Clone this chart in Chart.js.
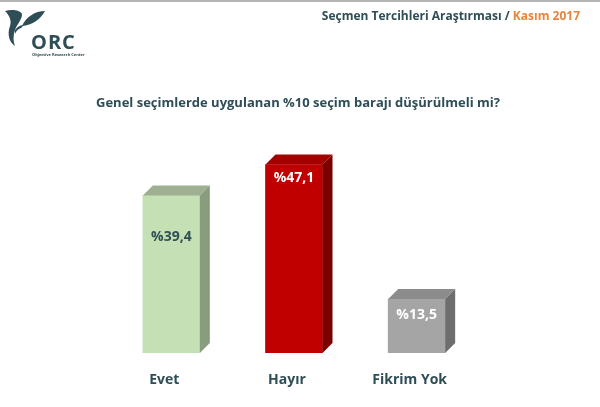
<!DOCTYPE html>
<html>
<head>
<meta charset="utf-8">
<script src="https://cdn.jsdelivr.net/npm/chart.js"></script>
<style>
  html, body { margin: 0; padding: 0; background: #fff; }
  #wrap { width: 600px; height: 407px; position: relative; }
</style>
</head>
<body>
<div id="wrap"><canvas id="barajChart"></canvas></div>
<script>
// DATA
const categories = ["Evet", "Hayır", "Fikrim Yok"];
const values = [39.4, 47.1, 13.5];
const valueLabels = ["%39,4", "%47,1", "%13,5"];

// styling
const frontColors = ["#c5e0b4", "#c00000", "#a5a5a5"];
const topColors = ["#9fb092", "#a30000", "#8c8c8c"];
const sideColors = ["#8a9c7e", "#7a0000", "#6e6e6e"];
const labelColors = ["#2f4f55", "#ffffff", "#ffffff"];
const labelOffsets = [42, 13, 16];
const depth = 10;
const teal = "#2e4d57";

const ctx = document.getElementById("barajChart").getContext("2d");

// draws header, logo, question and the 3D faces
const decorPlugin = {
    id: "decor",
    beforeDraw(chart) {
        const c = chart.ctx;
        c.save();
        c.fillStyle = "#fff";
        c.fillRect(0, 0, chart.width, chart.height);
        // top rule
        c.fillStyle = "#b5b5b5";
        c.fillRect(0, 0, chart.width, 2);

        // logo leaves
        c.fillStyle = teal;
        c.beginPath();
        c.moveTo(5, 11);
        c.bezierCurveTo(12, 9, 20, 10, 22, 14);
        c.bezierCurveTo(22, 20, 17, 24, 15, 30);
        c.bezierCurveTo(13, 36, 13, 41, 15, 46);
        c.bezierCurveTo(9, 42, 7, 34, 10, 26);
        c.bezierCurveTo(12, 20, 9, 15, 5, 11);
        c.fill();
        c.beginPath();
        c.moveTo(45, 11);
        c.bezierCurveTo(40, 20, 32, 25, 22, 26);
        c.bezierCurveTo(26, 17, 35, 11, 45, 11);
        c.fill();
        c.beginPath();
        c.moveTo(15, 30);
        c.bezierCurveTo(18, 26, 21, 25, 24, 25);
        c.lineTo(21, 28);
        c.bezierCurveTo(18, 29, 16, 31, 15, 34);
        c.fill();

        c.font = "bold 20px 'Open Sans', sans-serif";
        c.textBaseline = "alphabetic";
        c.textAlign = "left";
        if ("letterSpacing" in c) c.letterSpacing = "1px";
        c.fillText("ORC", 31, 49);
        if ("letterSpacing" in c) c.letterSpacing = "0px";
        c.font = "bold 4px 'Open Sans', sans-serif";
        c.fillText("Objective Research Center", 32, 56);

        // header
        c.font = "bold 12px 'Open Sans', sans-serif";
        c.textBaseline = "middle";
        const part2 = "Kasım 2017";
        const part1 = "Seçmen Tercihleri Araştırması / ";
        const w2 = c.measureText(part2).width;
        c.textAlign = "right";
        c.fillStyle = "#e8843c";
        c.fillText(part2, 580, 17);
        c.fillStyle = teal;
        c.fillText(part1, 580 - w2, 17);

        // question
        c.font = "bold 13px 'Open Sans', sans-serif";
        c.textAlign = "center";
        c.fillText("Genel seçimlerde uygulanan %10 seçim barajı düşürülmeli mi?", 298, 103);
        c.restore();
    },
    afterDatasetsDraw(chart) {
        const c = chart.ctx;
        const meta = chart.getDatasetMeta(0);
        const xScale = chart.scales.x;
        c.save();
        meta.data.forEach((bar, i) => {
            const x0 = bar.x - bar.width / 2;
            const x1 = bar.x + bar.width / 2;
            const top = bar.y;
            const bottom = bar.base;
            // top face
            c.fillStyle = topColors[i];
            c.beginPath();
            c.moveTo(x0, top);
            c.lineTo(x1, top);
            c.lineTo(x1 + depth, top - depth);
            c.lineTo(x0 + depth, top - depth);
            c.closePath();
            c.fill();
            // side face
            c.fillStyle = sideColors[i];
            c.beginPath();
            c.moveTo(x1, top);
            c.lineTo(x1 + depth, top - depth);
            c.lineTo(x1 + depth, bottom - depth);
            c.lineTo(x1, bottom);
            c.closePath();
            c.fill();
            // value label
            c.fillStyle = labelColors[i];
            c.font = "bold 14px 'Open Sans', sans-serif";
            c.textAlign = "center";
            c.textBaseline = "middle";
            c.fillText(valueLabels[i], bar.x, top + labelOffsets[i]);
            // category label
            c.fillStyle = teal;
            c.font = "bold 14px 'Open Sans', sans-serif";
            c.fillText(categories[i], xScale.getPixelForValue(i) - 7, 380);
        });
        c.restore();
    }
};

new Chart(ctx, {
    type: "bar",
    data: {
        labels: categories,
        datasets: [{
            data: values,
            backgroundColor: frontColors,
            borderWidth: 0,
            barThickness: 57
        }]
    },
    options: {
        responsive: true,
        maintainAspectRatio: false,
        animation: false,
        layout: {
            padding: { left: 110, right: 122, top: 153, bottom: 54 }
        },
        scales: {
            x: { display: false },
            y: { display: false, min: 0, max: 50 }
        },
        plugins: {
            legend: { display: false },
            tooltip: { enabled: false }
        }
    },
    plugins: [decorPlugin]
});
</script>
</body>
</html>
